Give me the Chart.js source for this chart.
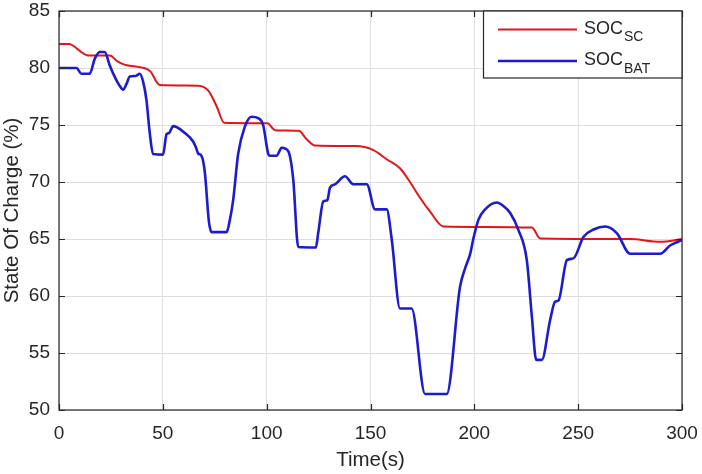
<!DOCTYPE html>
<html>
<head>
<meta charset="utf-8">
<script src="https://cdn.jsdelivr.net/npm/chart.js@4"></script>
<style>
  html, body { margin: 0; padding: 0; background: #ffffff; }
  #wrap { width: 702px; height: 474px; }
</style>
</head>
<body>
<div id="wrap"><canvas id="socChart" width="702" height="474"></canvas></div>
<script>
// series names, main part + subscript
const labelMain = ["SOC", "SOC"];
const labelSub = ["SC", "BAT"];

// supercapacitor state of charge
const timeSC = [0, 5, 8, 10, 14, 24.5, 28, 31.5, 38, 41, 44, 48.5, 67, 72, 76, 79.5,
  100.4, 104, 115.5, 119, 123.3, 142.5, 151.4, 157.8, 164.2, 169, 173.9, 178.7, 185.1,
  227.7, 231.7, 275, 289.5, 300];
const socSC = [82.1, 82.1, 81.8, 81.5, 81.1, 81.1, 80.6, 80.3, 80.1, 80.0, 79.7, 78.5, 78.45, 78.0, 76.6, 75.2,
  75.15, 74.55, 74.5, 73.8, 73.2, 73.15, 72.8, 72.0, 71.2, 70.0, 68.6, 67.4, 66.1,
  66.0, 65.05, 65.0, 64.75, 65.0];

// battery state of charge
const timeBAT = [0, 8.4, 10.8, 14.8, 17.2, 19.6, 22, 24.4, 26.9, 29, 30.9, 32.5, 34.1, 37, 38.9, 40.5,
  42.1, 43.7, 45.3, 50.1, 51.8, 53, 55, 60.6, 64.6, 66, 67, 68.6, 70.2, 72.2, 73.5, 80.7, 82.3,
  83.9, 86.3, 89.5, 92.7, 95.9, 98.3, 100.7, 101.5, 104.8, 107.2, 110.4, 112.8, 115.2, 123.7, 124.8,
  127.3, 129.2, 130.5, 132.9, 137.7, 141.7, 148.2, 152.2, 157.8, 160.2, 164.2, 169.8, 176.3,
  186.7, 193.1, 195.5, 198, 199.5, 202, 205.2, 210.8, 214, 217.2, 221.2, 225.3, 227.7, 229.8,
  232.5, 236.5, 238.9, 240.5, 244.6, 247.7, 252.6, 257.4, 263, 268.7, 275, 289.5, 294.4, 300];
const socBAT = [80.0, 80.0, 79.5, 79.5, 80.8, 81.4, 81.4, 80.25, 79.2, 78.5, 78.1, 78.6, 79.25, 79.3, 79.5, 78.8,
  77.2, 74.3, 72.45, 72.4, 74.2, 74.3, 74.9, 74.3, 73.55, 73.0, 72.5, 72.3, 70.9, 66.5, 65.6, 65.6, 66.7,
  68.45, 72.5, 74.86, 75.73, 75.6, 75.0, 72.5, 72.3, 72.3, 73.0, 72.7, 70.2, 64.3, 64.26, 65.5,
  68.3, 68.4, 69.5, 69.8, 70.5, 69.8, 69.8, 67.6, 67.6, 65.0, 58.9, 58.9, 51.4,
  51.4, 60.8, 62.4, 63.7, 65.0, 66.7, 67.6, 68.2, 67.9, 67.3, 65.8, 63.1, 58.2, 54.4,
  54.4, 57.9, 59.5, 59.6, 63.15, 63.3, 65.2, 65.83, 66.1, 65.5, 63.7, 63.7, 64.45, 64.9];

const xTicks = [0, 50, 100, 150, 200, 250, 300];
const yTicks = [50, 55, 60, 65, 70, 75, 80, 85];

const lineColors = ["rgb(226,22,22)", "rgb(28,28,206)"];
const axisColor = "#262626";
const fontName = "'Liberation Sans', Arial, Helvetica, sans-serif";

function toPoints(xs, ys) {
  return xs.map((x, i) => ({ x: x, y: ys[i] }));
}

// box, inward tick marks and the legend with subscripts (matlab look)
const matlabBox = {
  id: "matlabBox",
  afterDraw(chart) {
    const ctx = chart.ctx;
    const a = chart.chartArea;
    const xs = chart.scales.x;
    const ys = chart.scales.y;
    const tl = 6;
    ctx.save();
    ctx.strokeStyle = axisColor;
    ctx.lineWidth = 1.2;
    ctx.strokeRect(a.left, a.top, a.right - a.left, a.bottom - a.top);
    ctx.beginPath();
    xTicks.forEach(v => {
      const px = Math.round(xs.getPixelForValue(v)) + 0.5;
      ctx.moveTo(px, a.bottom); ctx.lineTo(px, a.bottom - tl);
      ctx.moveTo(px, a.top); ctx.lineTo(px, a.top + tl);
    });
    yTicks.forEach(v => {
      const py = Math.round(ys.getPixelForValue(v)) + 0.5;
      ctx.moveTo(a.left, py); ctx.lineTo(a.left + tl, py);
      ctx.moveTo(a.right, py); ctx.lineTo(a.right - tl, py);
    });
    ctx.stroke();

    // legend
    const lx = 483.5, ly = a.top, lw = a.right - lx, lh = 67;
    ctx.fillStyle = "#ffffff";
    ctx.fillRect(lx, ly, lw, lh);
    ctx.strokeRect(lx, ly, lw, lh);
    const rows = [29.5, 61];
    rows.forEach((ry, i) => {
      ctx.strokeStyle = lineColors[i];
      ctx.lineWidth = i === 0 ? 2 : 2.5;
      ctx.beginPath();
      ctx.moveTo(498, ry); ctx.lineTo(577, ry);
      ctx.stroke();
      ctx.fillStyle = axisColor;
      ctx.textBaseline = "alphabetic";
      ctx.textAlign = "left";
      ctx.font = "18px " + fontName;
      ctx.fillText(labelMain[i], 584, ry + 4);
      const w = ctx.measureText(labelMain[i]).width;
      ctx.font = "14px " + fontName;
      ctx.fillText(labelSub[i], 584 + w + 1, ry + 11.5);
    });
    ctx.restore();
  }
};

new Chart(document.getElementById("socChart"), {
  type: "line",
  data: {
    datasets: [
      {
        label: labelMain[0] + labelSub[0],
        data: toPoints(timeSC, socSC),
        borderColor: lineColors[0],
        borderWidth: 2,
        pointRadius: 0,
        cubicInterpolationMode: "monotone",
        order: 1
      },
      {
        label: labelMain[1] + labelSub[1],
        data: toPoints(timeBAT, socBAT),
        borderColor: lineColors[1],
        borderWidth: 2.6,
        pointRadius: 0,
        cubicInterpolationMode: "monotone",
        order: 0
      }
    ]
  },
  options: {
    responsive: false,
    devicePixelRatio: 1,
    animation: false,
    layout: { padding: { top: 11, right: 20, left: 0, bottom: 0 } },
    plugins: {
      legend: { display: false },
      tooltip: { enabled: false }
    },
    scales: {
      x: {
        type: "linear",
        min: 0,
        max: 300,
        afterBuildTicks: s => { s.ticks = xTicks.map(v => ({ value: v })); },
        afterFit: s => { s.height = 64; s.paddingLeft = 0; s.paddingRight = 0; },
        grid: { color: "#dedede", lineWidth: 1, drawTicks: false },
        border: { display: false },
        ticks: { padding: 12, color: axisColor, font: { family: fontName, size: 19 } },
        title: {
          display: true,
          text: "Time(s)",
          color: axisColor,
          font: { family: fontName, size: 20.5 },
          padding: { top: 0, bottom: 1 }
        }
      },
      y: {
        type: "linear",
        min: 50,
        max: 85,
        afterBuildTicks: s => { s.ticks = yTicks.map(v => ({ value: v })); },
        afterFit: s => { s.width = 59; s.paddingTop = 0; s.paddingBottom = 0; },
        grid: { color: "#dedede", lineWidth: 1, drawTicks: false },
        border: { display: false },
        ticks: { padding: 9, color: axisColor, font: { family: fontName, size: 19 } },
        title: {
          display: true,
          text: "State Of Charge (%)",
          color: axisColor,
          font: { family: fontName, size: 20.5 },
          padding: { top: 0, bottom: 0 }
        }
      }
    }
  },
  plugins: [matlabBox]
});
</script>
</body>
</html>
